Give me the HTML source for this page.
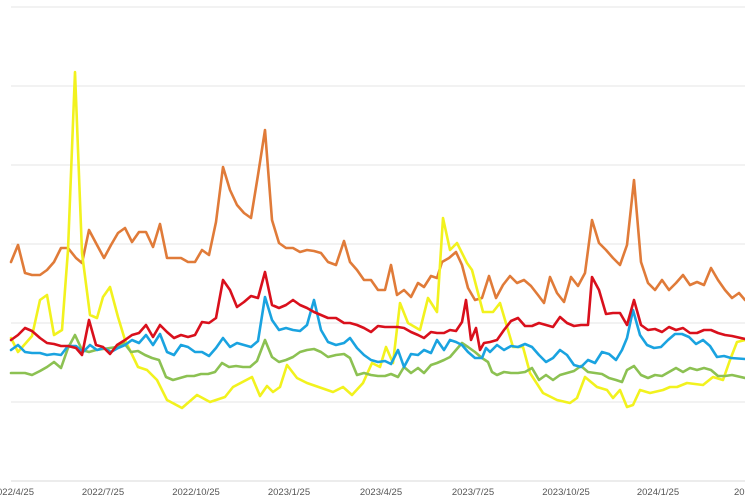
<!DOCTYPE html>
<html><head><meta charset="utf-8"><style>
html,body{margin:0;padding:0;background:#fff;}
svg{display:block;}
text{font-family:"Liberation Sans",sans-serif;font-size:9.5px;fill:#555;}
polyline{fill:none;stroke-width:2.6;stroke-linejoin:round;stroke-linecap:round;}
</style></head><body>
<svg width="745" height="496" viewBox="0 0 745 496">
<g stroke="#e4e4e4" stroke-width="1">
<line x1="11" y1="7" x2="745" y2="7"/>
<line x1="11" y1="86" x2="745" y2="86"/>
<line x1="11" y1="165" x2="745" y2="165"/>
<line x1="11" y1="244" x2="745" y2="244"/>
<line x1="11" y1="323" x2="745" y2="323"/>
<line x1="11" y1="402" x2="745" y2="402"/>
<line x1="11" y1="481" x2="745" y2="481" stroke="#d8d8d8"/>
</g>
<g>
<text x="-3" y="495">022/4/25</text>
<text x="103" y="495" text-anchor="middle">2022/7/25</text>
<text x="196" y="495" text-anchor="middle">2022/10/25</text>
<text x="289" y="495" text-anchor="middle">2023/1/25</text>
<text x="381" y="495" text-anchor="middle">2023/4/25</text>
<text x="473" y="495" text-anchor="middle">2023/7/25</text>
<text x="566" y="495" text-anchor="middle">2023/10/25</text>
<text x="658" y="495" text-anchor="middle">2024/1/25</text>
<text x="734" y="495">2024</text>
</g>
<polyline stroke="#e07b39" points="11,262 18,245 25,273 32,275 40,275 47,270 54,262 61,248 68,248 76,258 82,263 89,230 97,245 104,258 111,245 118,233 125,228 132,242 139,232 146,232 153,247 160,224 167,258 174,258 181,258 188,262 195,262 202,250 209,255 216,222 223,167 230,190 237,205 244,213 251,218 258,175 265,130 272,220 279,243 286,248 293,248 300,252 307,250 314,251 321,253 328,262 336,265 344,241 350,262 357,270 364,280 371,280 378,290 385,290 391,265 397,295 404,290 411,297 418,283 424,287 431,276 437,278 442,262 449,258 456,252 462,265 468,288 475,300 482,298 489,276 496,298 503,285 510,276 517,283 524,280 531,286 538,295 544,303 550,277 557,293 564,302 571,277 578,286 585,273 592,220 599,243 606,250 613,258 620,265 627,245 634,180 641,262 648,283 655,290 662,280 669,290 676,283 683,275 690,285 697,282 704,285 711,268 718,280 725,290 732,298 739,293 745,300"/>
<polyline stroke="#f2f21e" points="11,338 18,352 25,344 32,336 40,300 47,295 54,335 62,330 68,250 75,72 82,253 90,315 97,318 103,297 110,287 118,317 125,340 138,367 147,370 157,380 167,400 182,408 197,395 210,402 225,397 233,387 252,377 260,396 267,386 273,392 280,387 287,365 297,378 307,383 333,392 343,387 352,395 363,383 372,363 380,367 386,347 393,363 400,303 408,323 420,330 428,298 437,312 443,218 450,250 457,243 467,263 472,270 483,312 493,312 500,303 513,347 523,347 530,373 543,393 557,400 570,403 577,398 585,377 597,387 607,390 613,398 620,390 627,407 633,405 640,390 650,393 663,390 670,387 677,387 687,383 703,385 713,377 723,380 730,360 737,342 745,340"/>
<polyline stroke="#8cc152" points="11,373 18,373 25,373 32,375 40,371 47,367 54,362 61,368 68,348 75,335 82,350 89,352 96,350 103,349 110,348 117,347 124,343 131,352 138,351 145,355 152,358 159,360 166,377 173,380 180,378 187,376 194,376 201,374 208,374 215,372 222,363 229,367 236,366 243,367 250,367 257,361 265,340 272,357 279,362 286,360 293,357 300,352 307,350 314,349 321,352 328,357 336,355 344,354 350,358 357,375 364,373 371,375 378,376 385,376 391,374 398,377 404,367 411,373 418,368 424,373 431,365 437,363 444,360 450,357 456,350 462,343 468,347 475,352 482,358 488,362 492,372 497,375 504,372 511,373 518,373 525,372 532,368 539,380 546,375 553,380 560,375 567,373 574,371 581,366 588,372 595,373 602,374 609,378 616,380 622,382 627,370 634,366 641,375 648,378 655,375 662,376 669,372 676,368 683,372 690,368 697,370 704,368 711,370 718,376 725,376 732,375 745,378"/>
<polyline stroke="#1aa3e0" points="11,350 18,345 25,352 32,353 40,353 47,355 54,354 61,355 68,346 76,346 83,352 90,345 97,350 104,348 111,352 118,348 125,345 132,340 139,343 146,335 153,345 160,334 167,352 174,355 181,345 188,347 195,352 202,352 209,356 216,348 223,338 230,347 237,343 244,345 251,347 258,341 265,297 272,320 279,330 286,328 293,330 300,331 307,325 314,300 321,330 328,342 336,345 344,343 350,338 357,348 364,355 371,360 378,362 385,361 391,364 398,350 404,367 411,354 418,355 424,350 431,353 437,340 444,350 450,340 456,342 462,345 468,352 475,358 482,358 486,348 490,352 497,345 504,350 511,346 518,347 525,344 532,347 539,355 546,362 553,358 560,350 567,355 574,365 581,367 588,360 595,363 602,352 609,354 616,360 622,350 627,338 633,310 640,335 647,345 654,348 661,347 668,340 675,334 682,334 689,337 696,344 703,340 710,346 717,357 724,356 731,358 745,359"/>
<polyline stroke="#d9101c" points="11,340 18,335 25,328 32,331 40,338 47,343 54,344 61,346 68,346 76,348 82,355 89,320 96,345 103,347 110,354 117,345 125,340 132,335 139,333 146,325 153,337 160,325 167,332 174,338 181,335 188,337 195,335 202,322 209,323 216,318 223,280 230,290 237,307 244,302 251,296 258,298 265,272 272,305 279,308 286,305 293,300 300,305 307,308 314,312 321,315 328,318 336,318 344,323 350,323 357,325 364,328 371,332 378,326 385,327 391,327 398,327 404,328 411,332 418,335 424,338 431,332 437,333 444,333 450,330 456,331 462,322 466,300 471,340 476,328 480,350 484,343 490,342 497,340 504,330 511,321 518,318 525,326 532,326 539,323 546,325 553,327 560,317 567,323 574,326 581,325 588,325 592,277 599,290 606,314 613,313 620,313 627,325 634,300 641,325 648,330 655,329 662,332 669,327 676,330 683,328 690,333 697,333 704,330 711,330 718,333 725,335 732,336 745,339"/>
</svg>
</body></html>
